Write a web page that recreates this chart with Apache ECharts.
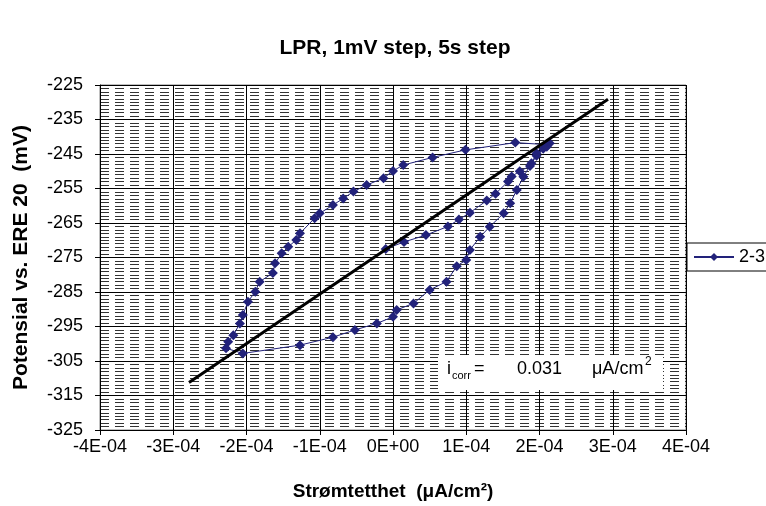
<!DOCTYPE html>
<html><head><meta charset="utf-8">
<script src="https://cdn.jsdelivr.net/npm/echarts@6/dist/echarts.min.js"></script>
<style>html,body{margin:0;padding:0;background:#fff}#c{width:766px;height:506px}</style>
</head><body><div id="c"></div>
<script>
// Data (current density, potential in mV)
const seriesName = '2-3';
const xVals = [
  -0.10e-4, 0.15e-4, 0.45e-4, 0.75e-4, 0.90e-4, 1.05e-4, 1.28e-4, 1.40e-4, 1.57e-4, 1.62e-4, 1.73e-4, 1.87e-4, 1.96e-4, 2.05e-4, 2.10e-4,
  1.67e-4, 0.99e-4, 0.54e-4, 0.14e-4, 0.00e-4, -0.13e-4, -0.36e-4, -0.54e-4, -0.68e-4, -0.82e-4, -1.00e-4, -1.07e-4, -1.27e-4, -1.32e-4, -1.43e-4, -1.52e-4, -1.61e-4, -1.64e-4, -1.82e-4, -1.88e-4, -1.98e-4, -2.05e-4, -2.09e-4, -2.18e-4, -2.25e-4, -2.28e-4,
  -2.05e-4, -1.27e-4, -0.82e-4, -0.52e-4, -0.22e-4, 0.00e-4, 0.05e-4, 0.28e-4, 0.50e-4, 0.73e-4, 0.87e-4, 1.00e-4, 1.05e-4, 1.19e-4, 1.32e-4, 1.51e-4, 1.60e-4, 1.69e-4, 1.78e-4, 1.89e-4, 1.96e-4, 2.10e-4, 2.14e-4
];
const yVals = [
  -272.5, -270.5, -268.5, -266.0, -264.0, -262.0, -258.5, -256.5, -253.0, -251.5, -250.0, -248.5, -245.5, -243.5, -242.3,
  -241.7, -243.8, -246.0, -248.2, -249.9, -252.0, -254.0, -255.9, -257.9, -259.8, -262.2, -263.6, -268.0, -269.9, -271.9, -273.8, -276.7, -279.5, -282.0, -284.9, -287.8, -291.7, -294.1, -297.5, -299.4, -301.3,
  -302.8, -300.4, -298.1, -296.0, -294.1, -292.2, -290.2, -288.3, -284.4, -282.0, -277.5, -275.7, -272.8, -269.0, -266.1, -262.2, -259.3, -255.4, -251.6, -247.7, -244.8, -242.9, -241.9
];
const fitX = [-2.785e-4, 2.935e-4];
const fitY = [-311.2, -229.1];
const yTicksMin = -325, yTicksMax = -225, yStep = 10;
const xMin = -4e-4, xMax = 4e-4, xStep = 1e-4;
const titleText = 'LPR, 1mV step, 5s step';
const xTitle = 'Strømtetthet  (μA/cm²)';
const yTitle = 'Potensial vs. ERE 20  (mV)';
const icorrValue = '0.031';

// y values are plotted relative to the axis minimum so ticks start at -325
const Y0 = yTicksMin;
const mainData = xVals.map((x, i) => [x, yVals[i] - Y0]);
const fitData = fitX.map((x, i) => [x, fitY[i] - Y0]);

function fmtX(v) {
  if (Math.abs(v) < 1e-12) return '0E+00';
  const s = v.toExponential(0);
  const m = s.match(/^(-?\d)e([+-])(\d+)$/);
  if (!m) return s;
  return m[1] + 'E' + m[2] + m[3].padStart(2, '0');
}

const FONT = '"Liberation Sans", Arial, sans-serif';
const chart = echarts.init(document.getElementById('c'), null, {renderer: 'canvas'});
chart.setOption({
  animation: false,
  backgroundColor: '#fff',
  title: {
    text: titleText, left: 390, top: 33, textAlign: 'center',
    textStyle: {fontFamily: FONT, fontSize: 21, fontWeight: 'bold', color: '#000'}
  },
  legend: {
    data: [seriesName], left: 687, top: 243, orient: 'vertical',
    borderColor: '#000', borderWidth: 1, padding: [5, 20, 5, 6],
    itemWidth: 40, itemHeight: 10, itemGap: 0,
    textStyle: {fontFamily: FONT, fontSize: 18, color: '#000'}
  },
  grid: {left: 100, right: 80, top: 85, bottom: 76, containLabel: false, outerBoundsMode: 'none',
         show: true, borderColor: '#808080', borderWidth: 1},
  xAxis: {
    type: 'value', min: xMin, max: xMax, interval: xStep,
    name: xTitle, nameLocation: 'middle', nameGap: 52,
    nameTextStyle: {fontFamily: FONT, fontSize: 19, fontWeight: 'bold', color: '#000'},
    axisLine: {show: true, onZero: false, lineStyle: {color: '#000', width: 1}},
    axisTick: {show: true, inside: false, length: 5, lineStyle: {color: '#000'}},
    axisLabel: {formatter: fmtX, margin: 8, fontFamily: FONT, fontSize: 18, color: '#000'},
    splitLine: {show: true, lineStyle: {color: '#000', width: 1}}
  },
  yAxis: {
    type: 'value', min: 0, max: yTicksMax - yTicksMin, interval: yStep,
    name: yTitle, nameLocation: 'middle', nameGap: 68, nameRotate: 90,
    nameTextStyle: {fontFamily: FONT, fontSize: 21, fontWeight: 'bold', color: '#000'},
    axisLine: {show: true, onZero: false, lineStyle: {color: '#000', width: 1}},
    axisTick: {show: true, inside: false, length: 5, lineStyle: {color: '#000'}},
    axisLabel: {formatter: v => String(Math.round(v + Y0)), margin: 17, fontFamily: FONT, fontSize: 18, color: '#000'},
    splitLine: {show: true, lineStyle: {color: '#000', width: 1}},
    minorTick: {show: false, splitNumber: 10},
    minorSplitLine: {show: true, lineStyle: {color: '#333', width: 1, type: [9, 6]}}
  },
  series: [
    {
      name: seriesName, type: 'line', data: mainData,
      symbol: 'diamond', symbolSize: 10,
      lineStyle: {color: '#22227a', width: 1},
      itemStyle: {color: '#22227a'},
      z: 3
    },
    {
      name: 'fit', type: 'line', data: fitData, symbol: 'none', silent: true,
      lineStyle: {color: '#000', width: 3}, z: 4
    }
  ],
  graphic: [
    {type: 'rect', shape: {x: 438, y: 355, width: 225, height: 35}, style: {fill: '#fff'}, z: 10},
    {type: 'text', x: 447, y: 360, style: {text: 'i', font: '18px ' + FONT, fill: '#000'}, z: 11},
    {type: 'text', x: 452, y: 370, style: {text: 'corr', font: '11px ' + FONT, fill: '#000'}, z: 11},
    {type: 'text', x: 474, y: 360, style: {text: '=', font: '18px ' + FONT, fill: '#000'}, z: 11},
    {type: 'text', x: 517, y: 360, style: {text: icorrValue, font: '18px ' + FONT, fill: '#000'}, z: 11},
    {type: 'text', x: 592, y: 360, style: {text: 'μA/cm', font: '18px ' + FONT, fill: '#000'}, z: 11},
    {type: 'text', x: 645, y: 356, style: {text: '2', font: '12px ' + FONT, fill: '#000'}, z: 11}
  ]
});
</script></body></html>
